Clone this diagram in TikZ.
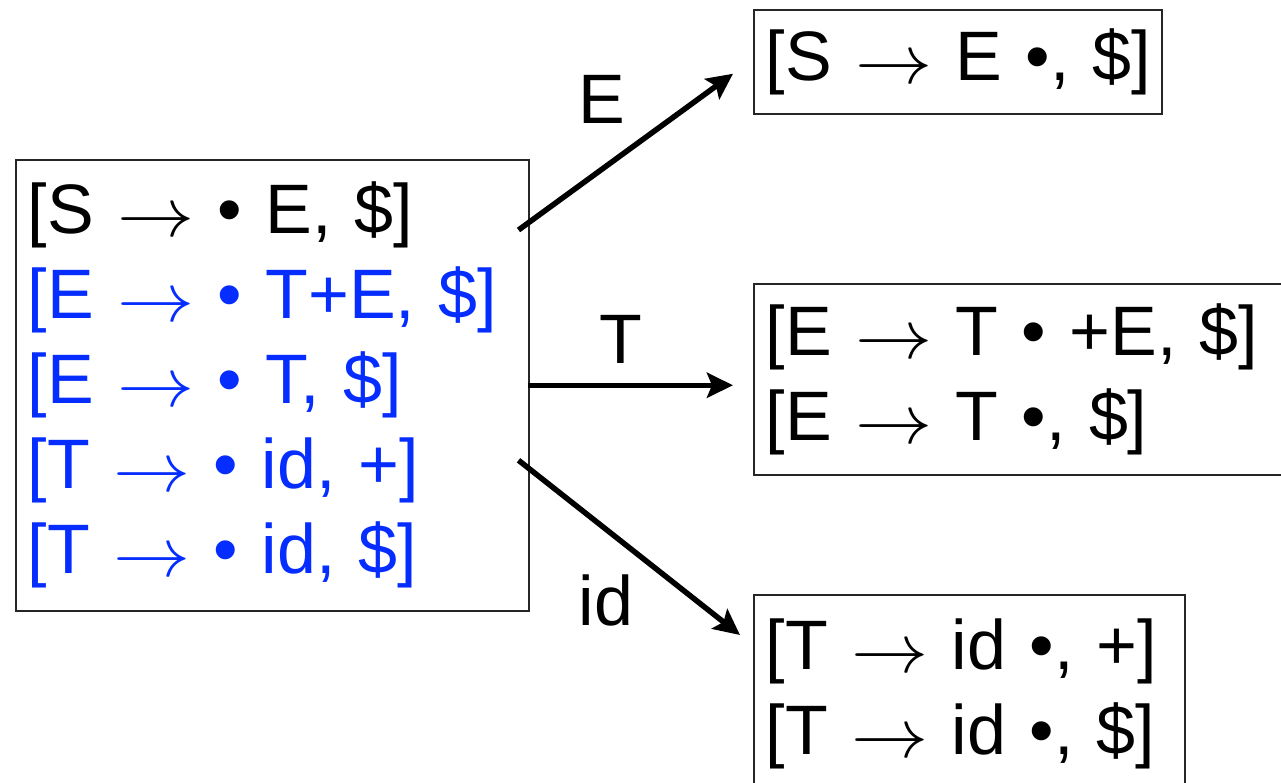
\documentclass[tikz,border=0pt]{standalone}
\usepackage{graphicx}
\usepackage{fontspec}
\setmainfont{Liberation Sans}
\usetikzlibrary{arrows.meta,calc}
\definecolor{itemblue}{RGB}{5,45,255}
\newcommand{\ar}{\raisebox{-3pt}{\scalebox{3.1}[2.8]{\fontsize{24.88}{25}\selectfont$\rightarrow$}}}
\begin{document}
\begin{tikzpicture}[x=1pt,y=1pt,
  every node/.style={font=\fontsize{70}{85}\selectfont},
  itembox/.style={draw=black!85,line width=1.5pt,align=left,inner xsep=12pt,inner ysep=0pt,anchor=north west},
  trans/.style={line width=5.5pt,-{Stealth[length=26pt,width=25pt,inset=5pt]}},
  lbl/.style={anchor=base,inner sep=0pt}]
\useasboundingbox (0,0) rectangle (1281,-782);

\node[itembox,text width=489pt,minimum height=451pt] (L) at (15,-159)
  {\mbox{[S \ar{} \textbullet{} E, \$]}\\
   \mbox{\textcolor{itemblue}{[E \ar{} \textbullet{} T+E, \$]}}\\
   \mbox{\textcolor{itemblue}{[E \ar{} \textbullet{} T, \$]}}\\
   \mbox{\textcolor{itemblue}{[T \ar{} \textbullet{} id, +]}}\\
   \mbox{\textcolor{itemblue}{[T \ar{} \textbullet{} id, \$]}}};

\node[itembox,text width=384pt,minimum height=104pt] (A) at (753,-9)
  {\mbox{[S \ar{} E \textbullet, \$]}};

\node[itembox,text width=516pt,minimum height=191pt] (B) at (753,-283)
  {\mbox{[E \ar{} T \textbullet{} +E, \$]}\\
   \mbox{[E \ar{} T \textbullet, \$]}};

\node[itembox,text width=407pt,minimum height=198pt] (C) at (753,-594)
  {\mbox{[T \ar{} id \textbullet, +]}\\
   \mbox{[T \ar{} id \textbullet, \$]}};

\draw[trans] ([xshift=-11pt,yshift=-71pt]L.north east) -- ([xshift=-20pt,yshift=-12pt]A.west);
\draw[trans] ([xshift=-2pt]L.east) -- ([xshift=-20pt]B.west |- L.east);
\draw[trans] ([xshift=-11pt,yshift=-75pt]L.east) -- ([xshift=-13pt,yshift=-41pt]C.north west);

\node[lbl] (lE) at (602,-123) {E};
\node[lbl] (lT) at (621,-363) {T};
\node[lbl] (lid) at (606,-625) {id};
\end{tikzpicture}
\end{document}
